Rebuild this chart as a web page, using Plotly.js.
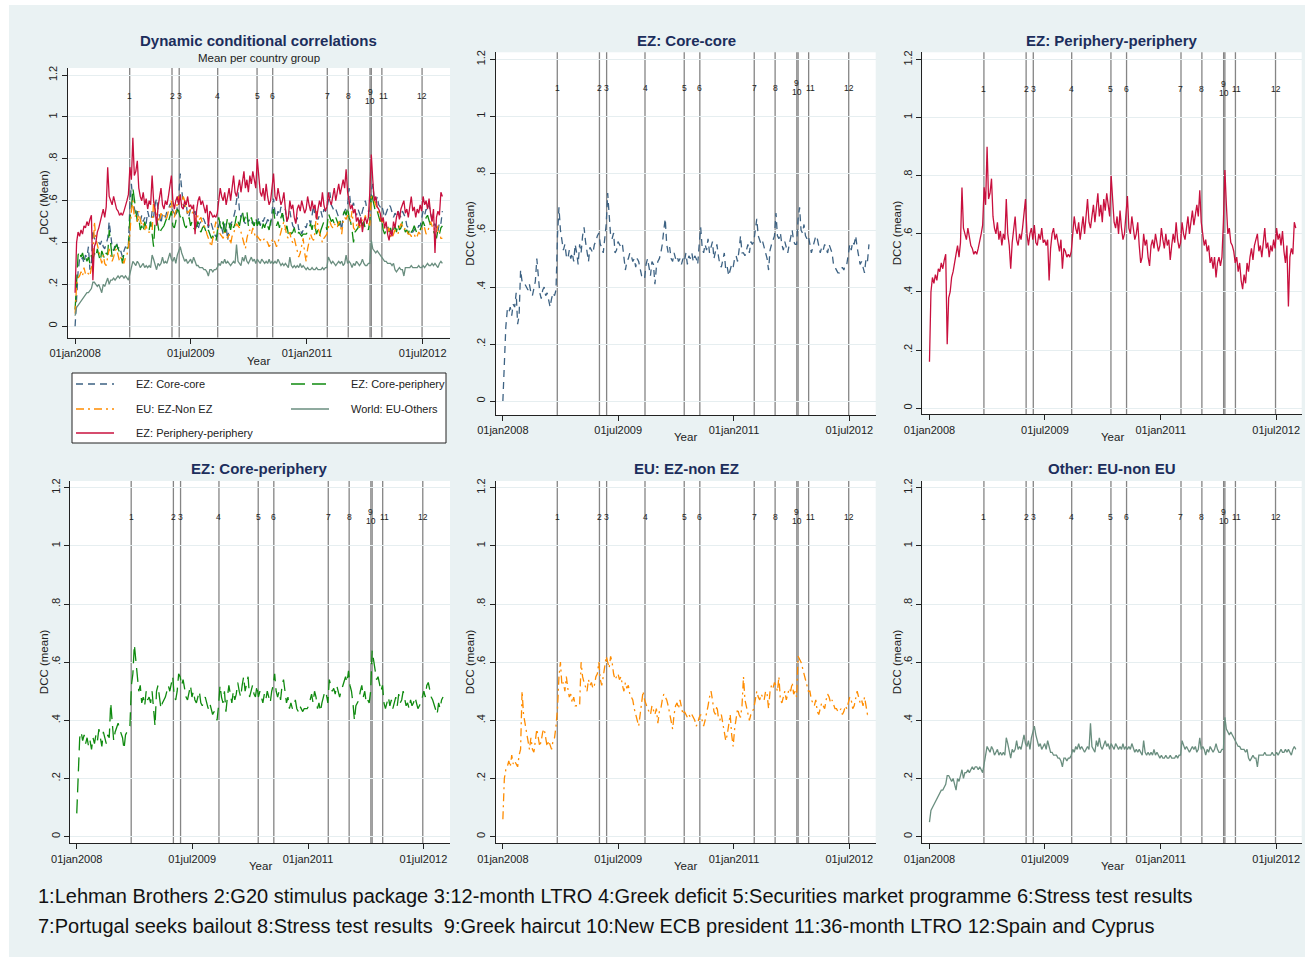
<!DOCTYPE html>
<html><head><meta charset="utf-8">
<script src="https://cdn.plot.ly/plotly-3.0.1.min.js"></script>
<style>html,body{margin:0;padding:0;background:#fff;} #chart{width:1310px;height:962px;}</style>
</head><body><div id="chart"></div>
<script>
const W = 1310, H = 962;
const FONT = 'Arial, "Liberation Sans", sans-serif';
const startDate = '2008-01-01'; // weekly observations from this date

const coreCore = [
0.00,0.15,0.26,0.32,0.31,0.33,0.30,0.34,0.33,0.38,
0.27,0.30,0.46,0.42,0.41,0.41,0.40,0.39,0.41,0.38,
0.37,0.40,0.42,0.50,0.44,0.38,0.36,0.39,0.40,0.37,
0.38,0.35,0.33,0.36,0.38,0.37,0.39,0.58,0.68,0.60,
0.56,0.53,0.55,0.51,0.50,0.53,0.50,0.52,0.49,0.55,
0.52,0.48,0.55,0.52,0.58,0.61,0.56,0.52,0.49,0.54,
0.53,0.52,0.55,0.56,0.58,0.59,0.55,0.54,0.52,0.58,
0.62,0.73,0.65,0.58,0.57,0.59,0.52,0.53,0.56,0.55,
0.54,0.55,0.50,0.46,0.49,0.50,0.52,0.51,0.49,0.50,
0.47,0.50,0.49,0.46,0.44,0.43,0.43,0.48,0.50,0.47,
0.44,0.49,0.48,0.41,0.47,0.49,0.50,0.52,0.55,0.60,
0.64,0.55,0.52,0.54,0.50,0.49,0.52,0.50,0.51,0.49,
0.50,0.48,0.50,0.49,0.52,0.48,0.51,0.50,0.52,0.49,
0.51,0.50,0.48,0.55,0.61,0.54,0.52,0.55,0.53,0.57,
0.52,0.54,0.56,0.50,0.52,0.55,0.51,0.48,0.47,0.50,
0.52,0.46,0.47,0.44,0.46,0.48,0.47,0.50,0.51,0.49,
0.53,0.58,0.52,0.52,0.51,0.53,0.55,0.52,0.56,0.55,
0.56,0.60,0.64,0.58,0.56,0.55,0.56,0.54,0.52,0.50,
0.46,0.53,0.55,0.57,0.58,0.66,0.58,0.57,0.59,0.55,
0.53,0.56,0.54,0.52,0.55,0.58,0.60,0.56,0.55,0.55,
0.64,0.68,0.60,0.59,0.62,0.58,0.57,0.58,0.55,0.52,
0.54,0.56,0.58,0.57,0.54,0.52,0.54,0.53,0.55,0.53,
0.52,0.55,0.53,0.52,0.48,0.47,0.46,0.45,0.45,0.46,
0.47,0.46,0.48,0.48,0.51,0.55,0.53,0.56,0.55,0.58,
0.54,0.50,0.48,0.49,0.47,0.45,0.50,0.49,0.55];

const peripheryPeriphery = [
0.16,0.40,0.45,0.43,0.46,0.44,0.48,0.47,0.50,0.48,
0.51,0.53,0.22,0.38,0.40,0.45,0.47,0.51,0.53,0.56,
0.52,0.57,0.76,0.62,0.60,0.58,0.62,0.58,0.56,0.55,
0.53,0.54,0.53,0.55,0.57,0.60,0.63,0.76,0.70,0.90,
0.72,0.74,0.79,0.66,0.62,0.60,0.64,0.58,0.61,0.56,
0.60,0.58,0.72,0.60,0.56,0.48,0.57,0.62,0.66,0.58,
0.56,0.60,0.58,0.62,0.68,0.72,0.60,0.56,0.60,0.62,
0.58,0.63,0.57,0.56,0.60,0.58,0.62,0.57,0.58,0.56,
0.58,0.44,0.55,0.60,0.62,0.58,0.60,0.56,0.54,0.58,
0.48,0.55,0.54,0.52,0.53,0.52,0.54,0.60,0.66,0.62,
0.60,0.64,0.58,0.62,0.66,0.60,0.68,0.72,0.64,0.62,
0.66,0.70,0.64,0.68,0.74,0.66,0.70,0.64,0.72,0.68,
0.74,0.70,0.66,0.80,0.70,0.64,0.62,0.66,0.60,0.68,
0.62,0.58,0.60,0.66,0.73,0.62,0.60,0.66,0.62,0.58,
0.60,0.64,0.56,0.50,0.52,0.60,0.56,0.58,0.52,0.49,
0.56,0.58,0.55,0.60,0.57,0.54,0.56,0.62,0.58,0.55,
0.60,0.56,0.58,0.51,0.56,0.60,0.57,0.64,0.58,0.55,
0.57,0.64,0.60,0.58,0.62,0.66,0.60,0.64,0.68,0.63,
0.66,0.70,0.66,0.75,0.64,0.60,0.56,0.58,0.54,0.56,
0.50,0.52,0.48,0.52,0.45,0.50,0.52,0.49,0.52,0.64,
0.82,0.70,0.60,0.62,0.57,0.56,0.54,0.50,0.52,0.47,
0.50,0.44,0.41,0.46,0.43,0.50,0.47,0.52,0.55,0.51,
0.56,0.58,0.60,0.54,0.56,0.52,0.58,0.62,0.55,0.57,
0.52,0.56,0.54,0.58,0.55,0.62,0.58,0.60,0.56,0.61,
0.54,0.50,0.56,0.35,0.52,0.55,0.53,0.64,0.62];

const corePeriphery = [
0.08,0.24,0.34,0.36,0.33,0.35,0.32,0.34,0.31,0.33,
0.30,0.34,0.32,0.35,0.33,0.37,0.34,0.31,0.36,0.34,
0.32,0.35,0.34,0.46,0.40,0.33,0.36,0.38,0.39,0.37,
0.35,0.34,0.30,0.35,0.36,0.37,0.38,0.52,0.56,0.66,
0.60,0.55,0.50,0.52,0.46,0.48,0.45,0.50,0.47,0.48,
0.46,0.50,0.44,0.38,0.50,0.52,0.48,0.44,0.46,0.47,
0.48,0.50,0.52,0.50,0.53,0.55,0.48,0.47,0.50,0.56,
0.55,0.52,0.54,0.50,0.48,0.47,0.50,0.52,0.48,0.50,
0.47,0.46,0.48,0.50,0.46,0.45,0.47,0.48,0.46,0.44,
0.46,0.44,0.42,0.43,0.41,0.40,0.45,0.52,0.48,0.46,
0.50,0.43,0.48,0.52,0.49,0.46,0.50,0.47,0.49,0.53,
0.50,0.48,0.52,0.55,0.50,0.53,0.55,0.48,0.50,0.52,
0.49,0.48,0.52,0.48,0.50,0.48,0.46,0.49,0.47,0.50,
0.48,0.46,0.50,0.52,0.56,0.50,0.48,0.50,0.47,0.52,
0.54,0.50,0.46,0.48,0.44,0.46,0.44,0.45,0.47,0.44,
0.43,0.45,0.44,0.43,0.44,0.44,0.44,0.45,0.47,0.49,
0.46,0.50,0.48,0.44,0.46,0.43,0.46,0.48,0.50,0.49,
0.46,0.54,0.52,0.50,0.51,0.49,0.52,0.50,0.48,0.50,
0.52,0.53,0.55,0.53,0.57,0.52,0.50,0.46,0.40,0.45,
0.46,0.47,0.50,0.52,0.48,0.50,0.46,0.47,0.46,0.50,
0.64,0.60,0.56,0.54,0.55,0.52,0.50,0.52,0.46,0.44,
0.46,0.48,0.45,0.47,0.44,0.46,0.48,0.45,0.49,0.46,
0.47,0.50,0.48,0.45,0.46,0.44,0.47,0.45,0.46,0.48,
0.46,0.44,0.45,0.46,0.48,0.50,0.48,0.52,0.53,0.50,
0.48,0.47,0.45,0.44,0.42,0.46,0.44,0.47,0.48];

const ezNonEz = [
0.06,0.20,0.23,0.24,0.26,0.24,0.28,0.25,0.26,0.25,
0.24,0.28,0.30,0.50,0.42,0.39,0.36,0.32,0.30,0.34,
0.30,0.29,0.33,0.37,0.34,0.31,0.33,0.36,0.37,0.34,
0.31,0.33,0.31,0.30,0.33,0.34,0.38,0.44,0.55,0.60,
0.52,0.53,0.50,0.55,0.51,0.48,0.49,0.46,0.48,0.45,
0.45,0.45,0.45,0.60,0.55,0.53,0.51,0.50,0.54,0.52,
0.53,0.51,0.52,0.55,0.56,0.60,0.54,0.52,0.55,0.58,
0.62,0.60,0.58,0.62,0.60,0.56,0.54,0.55,0.56,0.54,
0.55,0.52,0.50,0.53,0.51,0.52,0.49,0.48,0.47,0.44,
0.42,0.40,0.38,0.42,0.46,0.50,0.47,0.45,0.44,0.43,
0.42,0.45,0.43,0.42,0.44,0.39,0.43,0.44,0.47,0.49,
0.48,0.47,0.45,0.42,0.40,0.37,0.42,0.45,0.46,0.44,
0.47,0.44,0.42,0.43,0.42,0.41,0.42,0.41,0.42,0.41,
0.40,0.38,0.39,0.41,0.42,0.40,0.38,0.40,0.42,0.45,
0.48,0.50,0.47,0.43,0.42,0.45,0.41,0.40,0.42,0.39,
0.36,0.33,0.35,0.38,0.42,0.35,0.31,0.37,0.40,0.44,
0.42,0.41,0.45,0.55,0.47,0.45,0.43,0.40,0.42,0.43,
0.44,0.47,0.50,0.48,0.47,0.49,0.48,0.47,0.50,0.49,
0.44,0.50,0.52,0.51,0.53,0.52,0.50,0.55,0.47,0.46,
0.48,0.50,0.47,0.49,0.51,0.50,0.53,0.49,0.50,0.48,
0.62,0.61,0.60,0.58,0.56,0.55,0.53,0.50,0.50,0.47,
0.46,0.45,0.47,0.43,0.42,0.44,0.46,0.45,0.44,0.47,
0.49,0.48,0.46,0.47,0.45,0.44,0.44,0.43,0.43,0.44,
0.42,0.43,0.45,0.44,0.46,0.48,0.47,0.44,0.45,0.47,
0.50,0.48,0.46,0.47,0.45,0.48,0.44,0.42,0.42];

const euOthers = [
0.05,0.09,0.10,0.11,0.12,0.13,0.14,0.15,0.16,0.16,
0.17,0.18,0.21,0.21,0.20,0.19,0.20,0.18,0.16,0.20,
0.19,0.21,0.23,0.20,0.22,0.22,0.23,0.22,0.23,0.24,
0.23,0.24,0.24,0.23,0.24,0.23,0.22,0.25,0.29,0.31,
0.30,0.29,0.31,0.30,0.28,0.29,0.30,0.28,0.29,0.28,
0.29,0.28,0.34,0.32,0.29,0.27,0.30,0.29,0.30,0.33,
0.30,0.31,0.30,0.33,0.35,0.32,0.31,0.33,0.30,0.34,
0.36,0.38,0.35,0.33,0.31,0.32,0.30,0.31,0.32,0.30,
0.33,0.31,0.29,0.29,0.28,0.28,0.28,0.27,0.27,0.26,
0.24,0.27,0.27,0.26,0.27,0.27,0.28,0.30,0.29,0.31,
0.30,0.32,0.30,0.31,0.30,0.29,0.30,0.31,0.30,0.39,
0.31,0.30,0.29,0.33,0.31,0.34,0.31,0.30,0.32,0.33,
0.31,0.32,0.30,0.32,0.31,0.30,0.32,0.31,0.30,0.31,
0.30,0.32,0.30,0.31,0.30,0.31,0.30,0.32,0.30,0.29,
0.30,0.29,0.30,0.29,0.28,0.33,0.29,0.28,0.29,0.28,
0.29,0.28,0.30,0.28,0.29,0.28,0.27,0.28,0.27,0.27,
0.28,0.27,0.27,0.28,0.27,0.27,0.27,0.28,0.27,0.28,
0.28,0.33,0.31,0.30,0.31,0.30,0.29,0.30,0.31,0.30,
0.31,0.29,0.30,0.34,0.30,0.31,0.30,0.28,0.30,0.29,
0.31,0.30,0.29,0.30,0.32,0.30,0.29,0.29,0.30,0.30,
0.41,0.37,0.36,0.35,0.36,0.35,0.34,0.33,0.32,0.31,
0.31,0.30,0.30,0.30,0.29,0.30,0.27,0.26,0.27,0.28,
0.27,0.27,0.24,0.28,0.28,0.28,0.28,0.29,0.28,0.28,
0.28,0.28,0.29,0.28,0.28,0.29,0.28,0.29,0.30,0.29,
0.29,0.30,0.29,0.30,0.29,0.28,0.30,0.31,0.30];

const eventDates = ['2008-09-15','2009-04-03','2009-05-07','2009-11-05','2010-05-10','2010-07-23',
                    '2011-04-07','2011-07-15','2011-10-26','2011-11-01','2011-12-21','2012-06-28'];
const eventLabels = ['1','2','3','4','5','6','7','8','9','10','11','12'];

const xTickVals = ['2008-01-01','2009-07-01','2011-01-01','2012-07-01'];
const xTickText = ['01jan2008','01jul2009','01jan2011','01jul2012'];
const yTickVals = [0,0.2,0.4,0.6,0.8,1,1.2];
const yTickText = ['0','.2','.4','.6','.8','1','1.2'];

const seriesNames = ['EZ: Core-core','EZ: Core-periphery','EU: EZ-Non EZ','World: EU-Others','EZ: Periphery-periphery'];
const captionLines = [
 '1:Lehman Brothers 2:G20 stimulus package 3:12-month LTRO 4:Greek deficit 5:Securities market programme 6:Stress test results',
 '7:Portugal seeks bailout 8:Stress test results \u00a09:Greek haircut 10:New ECB president 11:36-month LTRO 12:Spain and Cyprus'
];

// ---- styles ----
const styles = {
  cc: {color:'#3d6283', dash:'7px,5px', width:1.3},
  cp: {color:'#0f8a0f', dash:'14px,7px', width:1.3},
  ez: {color:'#ff8c00', dash:'8px,4px,2px,4px', width:1.3},
  wo: {color:'#6a8e7f', dash:'solid', width:1.3},
  pp: {color:'#c8103e', dash:'solid', width:1.3}
};

function weeklyDates(n){
  const t0 = Date.parse(startDate + 'T00:00:00Z');
  return Array.from({length:n}, (_, i) => new Date(t0 + i*7*864e5).toISOString().slice(0,10));
}
function px2date(px, jan, jul){
  const perDay = (jul - jan) / 1643;
  const t0 = Date.parse('2008-01-01T00:00:00Z');
  return new Date(t0 + ((px - jan)/perDay)*864e5).toISOString().slice(0,10);
}

const panels = [
  {x0:67.7, x1:450,   jan:75,    jul:422.7, top:68,   bot:337.5, ymin:-0.054, ymax:1.234, title:'Dynamic conditional correlations', tx:258.5, ty:40, ytitle:'DCC (Mean)', ytx:44, yearY:361},
  {x0:495.7,x1:875.7, jan:502.7, jul:849.3, top:52.3, bot:415,   ymin:-0.049, ymax:1.2246, title:'EZ: Core-core', tx:686, ty:40, ytitle:'DCC (mean)', ytx:470, yearY:437},
  {x0:922.3,x1:1301.7,jan:929.3, jul:1276,  top:52.3, bot:414.3, ymin:-0.021, ymax:1.225, title:'EZ: Periphery-periphery', tx:1112, ty:40, ytitle:'DCC (mean)', ytx:897, yearY:437},
  {x0:70,   x1:450,   jan:76.7,  jul:423.3, top:481,  bot:843.3, ymin:-0.023, ymax:1.223, title:'EZ: Core-periphery', tx:259, ty:468, ytitle:'DCC (mean)', ytx:44, yearY:866},
  {x0:495.7,x1:875.7, jan:502.7, jul:849.3, top:481,  bot:843.3, ymin:-0.023, ymax:1.223, title:'EU: EZ-non EZ', tx:686, ty:468, ytitle:'DCC (mean)', ytx:470, yearY:866},
  {x0:922.3,x1:1301.7,jan:929.3, jul:1276,  top:481,  bot:843.3, ymin:-0.023, ymax:1.223, title:'Other: EU-non EU', tx:1112, ty:468, ytitle:'DCC (mean)', ytx:897, yearY:866}
];

const layout = {
  width: W, height: H,
  margin: {l:0, r:0, t:0, b:0, pad:0},
  paper_bgcolor: '#eaf2f3',
  plot_bgcolor: '#ffffff',
  showlegend: false,
  font: {family: FONT, size: 11, color: '#222'},
  shapes: [], annotations: []
};

const PX = x => x / W;
const PY = y => 1 - y / H;

panels.forEach((p, i) => {
  const n = i === 0 ? '' : String(i + 1);
  const xid = 'x' + n, yid = 'y' + n;
  layout['xaxis' + n] = {
    domain: [PX(p.x0), PX(p.x1)], anchor: yid, type: 'date',
    range: [px2date(p.x0, p.jan, p.jul), px2date(p.x1, p.jan, p.jul)],
    tickmode: 'array', tickvals: xTickVals, ticktext: xTickText,
    ticks: 'outside', ticklen: 5, tickcolor: '#222', tickwidth: 1,
    showline: true, linecolor: '#222', linewidth: 1, showgrid: false, zeroline: false,
    tickfont: {family: FONT, size: 11, color: '#222'}, fixedrange: true
  };
  layout['yaxis' + n] = {
    domain: [PY(p.bot), PY(p.top)], anchor: xid,
    range: [p.ymin, p.ymax],
    tickmode: 'array', tickvals: yTickVals, ticktext: yTickText, tickangle: -90,
    ticks: 'outside', ticklen: 5, tickcolor: '#222', tickwidth: 1,
    showline: true, linecolor: '#222', linewidth: 1,
    showgrid: true, gridcolor: '#e6eef0', gridwidth: 1, zeroline: false,
    tickfont: {family: FONT, size: 11, color: '#222'}, fixedrange: true
  };
  // event lines & labels
  eventDates.forEach((d, k) => {
    layout.shapes.push({type:'line', xref: xid, yref: yid + ' domain', x0: d, x1: d, y0: 0, y1: 1,
      line: {color: '#858585', width: 1.3}, layer: 'below'});
    let ys = 0, xs = 0;
    if (eventLabels[k] === '9') ys = 4.5;
    if (eventLabels[k] === '10') { ys = -4.5; xs = -1; }
    if (eventLabels[k] === '11') xs = 1.5;
    layout.annotations.push({xref: xid, yref: yid, x: d, y: 1.1, text: eventLabels[k], showarrow: false,
      xanchor: 'center', yanchor: 'middle', xshift: xs, yshift: ys, font: {family: FONT, size: 8.5, color: '#222'}});
  });
  // titles
  layout.annotations.push({xref:'paper', yref:'paper', x: PX(p.tx), y: PY(p.ty), text: '<b>' + p.title + '</b>',
    showarrow:false, xanchor:'center', yanchor:'middle', font:{family: FONT, size: 15, color:'#1c2e5c'}});
  layout.annotations.push({xref:'paper', yref:'paper', x: PX((p.x0 + p.x1)/2), y: PY(p.yearY), text: 'Year',
    showarrow:false, xanchor:'center', yanchor:'middle', font:{family: FONT, size: 11.5, color:'#222'}});
  layout.annotations.push({xref:'paper', yref:'paper', x: PX(p.ytx), y: PY((p.top + p.bot)/2), text: p.ytitle,
    textangle: -90, showarrow:false, xanchor:'center', yanchor:'middle', font:{family: FONT, size: 11.5, color:'#222'}});
});

layout.annotations.push({xref:'paper', yref:'paper', x: PX(258.5), y: PY(58), text: 'Mean per country group',
  showarrow:false, xanchor:'center', yanchor:'middle', font:{family: FONT, size: 11.5, color:'#222'}});

// white outer frame
[[0,0,W,5],[0,0,9,H],[W-5,0,W,H],[0,H-5,W,H]].forEach(r => {
  layout.shapes.push({type:'rect', xref:'paper', yref:'paper', x0:PX(r[0]), x1:PX(r[2]), y0:PY(r[3]), y1:PY(r[1]),
    fillcolor:'#ffffff', line:{width:0}, layer:'below'});
});

// legend box (manual, Stata-style two columns)
layout.shapes.push({type:'rect', xref:'paper', yref:'paper', x0:PX(72), x1:PX(446), y0:PY(443), y1:PY(373),
  fillcolor:'#ffffff', line:{color:'#222', width:1}, layer:'above'});
const legendItems = [
  {name: seriesNames[0], st: styles.cc, sx: 76,  tx: 134, y: 384},
  {name: seriesNames[1], st: styles.cp, sx: 291, tx: 349, y: 384},
  {name: seriesNames[2], st: styles.ez, sx: 76,  tx: 134, y: 409},
  {name: seriesNames[3], st: styles.wo, sx: 291, tx: 349, y: 409},
  {name: seriesNames[4], st: styles.pp, sx: 76,  tx: 134, y: 433}
];
legendItems.forEach(it => {
  layout.shapes.push({type:'line', xref:'paper', yref:'paper', x0:PX(it.sx), x1:PX(it.sx+38), y0:PY(it.y), y1:PY(it.y),
    line:{color: it.st.color, width: 1.5, dash: it.st.dash}, layer:'above'});
  layout.annotations.push({xref:'paper', yref:'paper', x: PX(it.tx), y: PY(it.y), text: it.name, showarrow:false,
    xanchor:'left', yanchor:'middle', font:{family: FONT, size: 11, color:'#222'}});
});

// caption
captionLines.forEach((t, k) => {
  layout.annotations.push({xref:'paper', yref:'paper', x: PX(36), y: PY(896 + 30*k), text: t, showarrow:false,
    xanchor:'left', yanchor:'middle', font:{family: FONT, size: 20, color:'#111'}});
});

// ---- traces ----
function tr(y, st, name, n){
  return {type:'scatter', mode:'lines', x: weeklyDates(y.length), y: y, name: name,
    xaxis: 'x' + n, yaxis: 'y' + n, line: {color: st.color, dash: st.dash, width: st.width}, hoverinfo:'x+y+name'};
}
const data = [
  tr(coreCore, styles.cc, seriesNames[0], ''),
  tr(corePeriphery, styles.cp, seriesNames[1], ''),
  tr(ezNonEz, styles.ez, seriesNames[2], ''),
  tr(euOthers, styles.wo, seriesNames[3], ''),
  tr(peripheryPeriphery, styles.pp, seriesNames[4], ''),
  tr(coreCore, styles.cc, seriesNames[0], '2'),
  tr(peripheryPeriphery, styles.pp, seriesNames[4], '3'),
  tr(corePeriphery, styles.cp, seriesNames[1], '4'),
  tr(ezNonEz, styles.ez, seriesNames[2], '5'),
  tr(euOthers, styles.wo, seriesNames[3], '6')
];

Plotly.newPlot('chart', data, layout, {displayModeBar: false});
</script>
</body></html>
